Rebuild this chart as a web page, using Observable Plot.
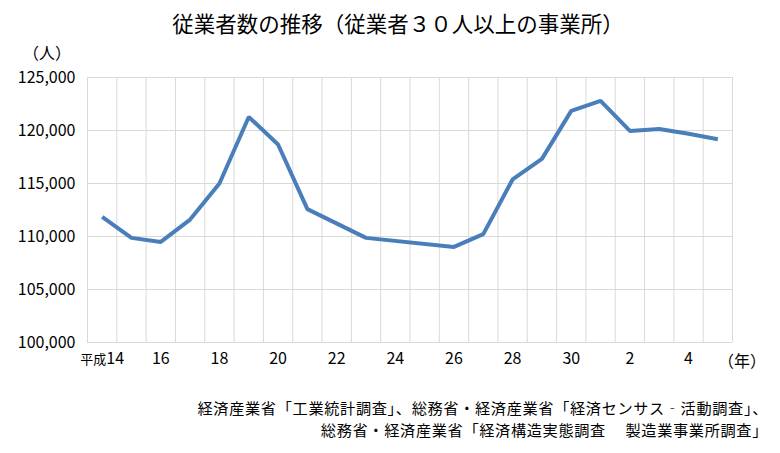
<!DOCTYPE html>
<html>
<head>
<meta charset="utf-8">
<script src="https://cdn.jsdelivr.net/npm/d3@7"></script>
<script src="https://cdn.jsdelivr.net/npm/@observablehq/plot@0.6"></script>
<style>
  html, body { margin: 0; padding: 0; background: #fff; }
  body { font-family: "Noto Sans CJK JP", "Noto Sans", sans-serif; color: #000; }
  #wrap { position: relative; width: 780px; height: 453px; overflow: hidden; }
  #chart { position: absolute; left: 0; top: 0; }
  .title { position: absolute; left: 0; width: 796px; top: 7px; text-align: center; font-size: 21.5px; white-space: nowrap; }
  .unit { position: absolute; left: 23px; top: 40px; font-size: 16px; }
  .yearunit { position: absolute; left: 718px; top: 348px; font-size: 16px; }
  .caption { position: absolute; right: 12px; top: 396px; text-align: right; font-size: 15.2px; line-height: 22px; letter-spacing: 0.65px; white-space: nowrap; }
</style>
</head>
<body>
<div id="wrap">
  <div id="chart"></div>
  <div class="title">従業者数の推移（従業者３０人以上の事業所）</div>
  <div class="unit">（人）</div>
  <div class="yearunit">（年）</div>
  <div class="caption">経済産業省「工業統計調査」、総務省・経済産業省「経済センサス‐活動調査」、<br>総務省・経済産業省「経済構造実態調査　&thinsp;製造業事業所調査」</div>
</div>
<script>
// Calendar years (平成14 = 2002 ... 令和5 = 2023)
const years = [2002, 2003, 2004, 2005, 2006, 2007, 2008, 2009, 2010, 2011, 2012,
               2013, 2014, 2015, 2016, 2017, 2018, 2019, 2020, 2021, 2022, 2023];
// Tick labels shown on the category axis
const yearLabels = ["平成14", "", "16", "", "18", "", "20", "", "22", "", "24",
                    "", "26", "", "28", "", "30", "", "2", "", "4", ""];
// Employees (persons), establishments with 30+ employees; null = no point drawn
const employees = [111850, 109870, 109490, 111600, 115000, 121280, 118680, 112580, null, 109870, null,
                   null, 109020, 110220, 115380, 117320, 121850, 122790, 119960, 120150, 119700, 119180];
const yTicks = [100000, 105000, 110000, 115000, 120000, 125000];

const data = years.map((year, i) => ({year, value: employees[i]})).filter(d => d.value != null);
const labelOf = new Map(years.map((y, i) => [y, yearLabels[i]]));
const labeledYears = years.filter((y, i) => yearLabels[i] !== "");
const boundaries = years.map(y => y - 0.5).concat([years[years.length - 1] + 0.5]);

const chart = Plot.plot({
  width: 780,
  height: 453,
  marginLeft: 87,
  marginRight: 48,
  marginTop: 77,
  marginBottom: 111,
  style: {fontFamily: "'Noto Sans CJK JP', 'Noto Sans', sans-serif", fontSize: "16px", color: "#000", background: "#fff"},
  x: {domain: [years[0] - 0.5, years[years.length - 1] + 0.5]},
  y: {domain: [yTicks[0], yTicks[yTicks.length - 1]]},
  marks: [
    Plot.ruleY(yTicks, {stroke: "#d9d9d9", strokeWidth: 1}),
    Plot.ruleX(boundaries, {stroke: "#d9d9d9", strokeWidth: 1}),
    Plot.axisY(yTicks, {tickSize: 0, tickPadding: 12, tickFormat: d3.format(","), label: null, fontSize: 16, fill: "#000", style: "letter-spacing:0.4px"}),
    Plot.axisX(labeledYears, {tickSize: 0, tickPadding: 10, tickFormat: d => labelOf.get(d), label: null, fontSize: 16, fill: "#000"}),
    Plot.line(data, {x: "year", y: "value", stroke: "#4a7ebb", strokeWidth: 4, strokeLinejoin: "miter", strokeLinecap: "butt", curve: "linear"})
  ]
});
// Render the era prefix "平成" smaller, as in the original
chart.querySelectorAll("text").forEach(t => {
  const s = t.textContent;
  if (s.startsWith("平成")) {
    t.textContent = "";
    const ns = "http://www.w3.org/2000/svg";
    const a = document.createElementNS(ns, "tspan");
    a.setAttribute("font-size", "13");
    a.textContent = "平成";
    const b = document.createElementNS(ns, "tspan");
    b.textContent = s.slice(2);
    t.appendChild(a); t.appendChild(b);
  }
});
document.getElementById("chart").appendChild(chart);
</script>
</body>
</html>
